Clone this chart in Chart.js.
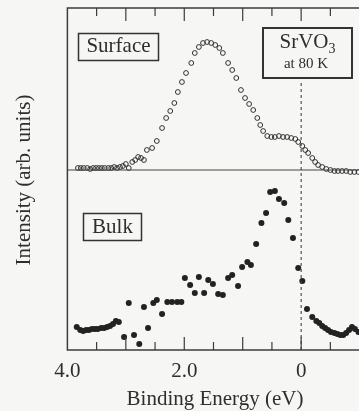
<!DOCTYPE html>
<html>
<head>
<meta charset="utf-8">
<script src="https://cdn.jsdelivr.net/npm/chart.js@4/dist/chart.umd.min.js"></script>
<style>
  html, body { margin: 0; padding: 0; background: #f6f6f4; }
  canvas { display: block; }
</style>
</head>
<body>
<canvas id="pes" width="359" height="411"></canvas>
<script>
// Photoemission spectra of SrVO3 at 80 K: binding energy (eV) vs intensity (arb. units)
const surfaceEnergy = [3.82,3.77,3.72,3.66,3.61,3.56,3.51,3.46,3.41,3.36,3.30,3.25,3.20,3.15,3.10,3.05,3.00,2.95,2.89,2.84,2.79,2.74,2.69,2.64,2.55,2.47,2.38,2.31,2.24,2.17,2.11,2.04,1.97,1.88,1.82,1.75,1.68,1.61,1.54,1.47,1.40,1.34,1.25,1.18,1.11,1.03,0.96,0.89,0.82,0.75,0.70,0.65,0.58,0.51,0.45,0.38,0.31,0.24,0.17,0.10,0.05,-0.02,-0.07,-0.12,-0.19,-0.24,-0.29,-0.36,-0.43,-0.50,-0.57,-0.63,-0.70,-0.77,-0.84,-0.91,-0.98];
const surfaceIntensity = [18.2,18.2,18.2,18.2,18.1,18.2,18.2,18.2,18.2,18.2,18.2,18.2,18.3,18.2,18.3,18.4,18.6,18.2,18.8,19.0,19.3,19.2,19.0,20.0,20.2,20.9,22.2,23.2,23.9,24.7,25.8,26.8,27.7,28.7,29.7,30.3,30.7,30.8,30.7,30.5,30.2,29.7,28.7,28.0,27.2,26.0,25.2,24.6,24.0,23.2,22.5,21.9,21.4,21.3,21.3,21.4,21.3,21.3,21.2,21.1,20.8,20.4,20.0,19.7,19.2,18.8,18.5,18.3,18.1,18.0,17.9,17.9,17.9,17.9,17.8,17.8,17.8];

const bulkEnergy = [3.84,3.78,3.73,3.68,3.63,3.58,3.53,3.48,3.42,3.37,3.32,3.27,3.22,3.17,3.12,3.03,2.95,2.86,2.77,2.69,2.62,2.53,2.47,2.38,2.29,2.21,2.12,2.05,1.99,1.90,1.82,1.75,1.66,1.59,1.51,1.42,1.34,1.25,1.18,1.08,1.01,0.92,0.86,0.77,0.68,0.60,0.53,0.45,0.38,0.29,0.22,0.14,0.05,-0.02,-0.10,-0.19,-0.26,-0.31,-0.36,-0.41,-0.46,-0.51,-0.57,-0.62,-0.67,-0.72,-0.77,-0.82,-0.87,-0.92,-0.98];
const bulkIntensity = [2.3,2.0,1.9,2.0,2.0,2.1,2.1,2.1,2.2,2.2,2.3,2.4,2.6,2.9,2.8,1.3,4.7,1.5,0.6,4.3,2.2,4.7,5.0,3.6,4.8,4.8,4.8,4.8,7.2,6.5,5.7,7.3,5.7,7.0,6.6,5.6,5.5,7.2,7.5,6.4,8.3,8.8,8.5,10.6,12.7,13.7,15.8,15.9,15.1,14.7,13.0,11.2,8.2,6.9,4.1,3.3,2.9,2.7,2.4,2.2,2.0,1.8,1.7,1.6,1.5,1.5,1.7,2.0,2.3,2.1,1.8];

// Reference lines: surface-spectrum background level and the Fermi level
const baselineEnergy = [4.0, -1.0];
const baselineLevel = [18.0, 18.0];
const fermiEnergy = [0, 0];
const fermiRange = [0, 27.0];

// Axis ticks
const majorTicks = [4, 3, 2, 1, 0];
const minorTicks = [3.5, 2.5, 1.5, 0.5, -0.5];
const tickLabels = { 4: '4.0', 2: '2.0', 0: '0' };

const xMin = -0.99, xMax = 4.0, yMin = 0, yMax = 34.2;

const pairs = (xs, ys) => xs.map((x, i) => ({ x: x, y: ys[i] }));

const INK = '#2e2e2e';
const SERIF = '"Liberation Serif", "DejaVu Serif", serif';

const decor = {
  id: 'decor',
  beforeDraw(chart) {
    const c = chart.ctx;
    c.save();
    c.fillStyle = '#f6f6f4';
    c.fillRect(0, 0, chart.width, chart.height);
    c.restore();
  },
  afterDraw(chart) {
    const c = chart.ctx;
    const a = chart.chartArea;
    const xs = chart.scales.x;
    c.save();
    c.strokeStyle = '#3c3c3c';
    c.lineWidth = 1.5;
    // frame: left, top, bottom (right edge runs off the canvas)
    c.beginPath();
    c.moveTo(chart.width + 2, a.top);
    c.lineTo(a.left, a.top);
    c.lineTo(a.left, a.bottom);
    c.lineTo(chart.width + 2, a.bottom);
    c.stroke();

    // inward ticks on top and bottom
    c.lineWidth = 1.2;
    const tick = (v, len) => {
      const px = xs.getPixelForValue(v);
      c.beginPath();
      c.moveTo(px, a.bottom); c.lineTo(px, a.bottom - len);
      c.moveTo(px, a.top); c.lineTo(px, a.top + len);
      c.stroke();
    };
    majorTicks.forEach(v => { if (v !== 4) tick(v, 13); });
    minorTicks.forEach(v => tick(v, 8));

    // tick labels
    c.fillStyle = INK;
    c.font = '21px ' + SERIF;
    c.textAlign = 'center';
    c.textBaseline = 'alphabetic';
    Object.keys(tickLabels).forEach(k => {
      c.fillText(tickLabels[k], xs.getPixelForValue(Number(k)), 377);
    });

    // axis titles
    c.fillText('Binding Energy (eV)', 215, 405);
    c.save();
    c.translate(30, 180);
    c.rotate(-Math.PI / 2);
    c.fillText('Intensity (arb. units)', 0, 0);
    c.restore();

    // boxed labels
    c.strokeStyle = '#333';
    c.lineWidth = 1.5;
    c.strokeRect(78.5, 33.5, 80, 27);
    c.fillText('Surface', 118.5, 52);
    c.strokeRect(83.5, 213.5, 58, 27);
    c.fillText('Bulk', 112.5, 233);

    c.lineWidth = 2;
    c.fillStyle = '#f6f6f4';
    c.fillRect(263, 28, 89, 50);
    c.strokeRect(263, 28, 89, 50);
    c.fillStyle = INK;
    c.font = '21px ' + SERIF;
    c.textAlign = 'left';
    const main = 'SrVO';
    const w = c.measureText(main).width;
    c.font = '14px ' + SERIF;
    const ws = c.measureText('3').width;
    const x0 = 307.5 - (w + ws) / 2;
    c.font = '21px ' + SERIF;
    c.fillText(main, x0, 48);
    c.font = '14px ' + SERIF;
    c.fillText('3', x0 + w, 53);
    c.font = '15px ' + SERIF;
    c.textAlign = 'center';
    c.fillText('at 80 K', 306, 68);
    c.restore();
  }
};

new Chart(document.getElementById('pes'), {
  type: 'scatter',
  data: {
    datasets: [
      {
        label: 'baseline',
        data: pairs(baselineEnergy, baselineLevel),
        showLine: true, pointRadius: 0,
        borderColor: '#444', borderWidth: 1.1
      },
      {
        label: 'Fermi level',
        data: pairs(fermiEnergy, fermiRange),
        showLine: true, pointRadius: 0,
        borderColor: '#444', borderWidth: 1.1, borderDash: [3, 3]
      },
      {
        label: 'Surface',
        data: pairs(surfaceEnergy, surfaceIntensity),
        pointStyle: 'circle', pointRadius: 2.4,
        pointBackgroundColor: 'rgba(0,0,0,0)',
        pointBorderColor: '#333', pointBorderWidth: 1
      },
      {
        label: 'Bulk',
        data: pairs(bulkEnergy, bulkIntensity),
        pointStyle: 'circle', pointRadius: 3,
        pointBackgroundColor: '#222', pointBorderColor: '#222', pointBorderWidth: 0
      }
    ]
  },
  options: {
    responsive: false,
    animation: false,
    devicePixelRatio: 1,
    layout: { autoPadding: false, padding: { left: 67.4, right: 0, top: 8, bottom: 61 } },
    plugins: { legend: { display: false }, tooltip: { enabled: false } },
    scales: {
      x: { type: 'linear', reverse: true, min: xMin, max: xMax, display: false },
      y: { type: 'linear', min: yMin, max: yMax, display: false }
    }
  },
  plugins: [decor]
});
</script>
</body>
</html>
